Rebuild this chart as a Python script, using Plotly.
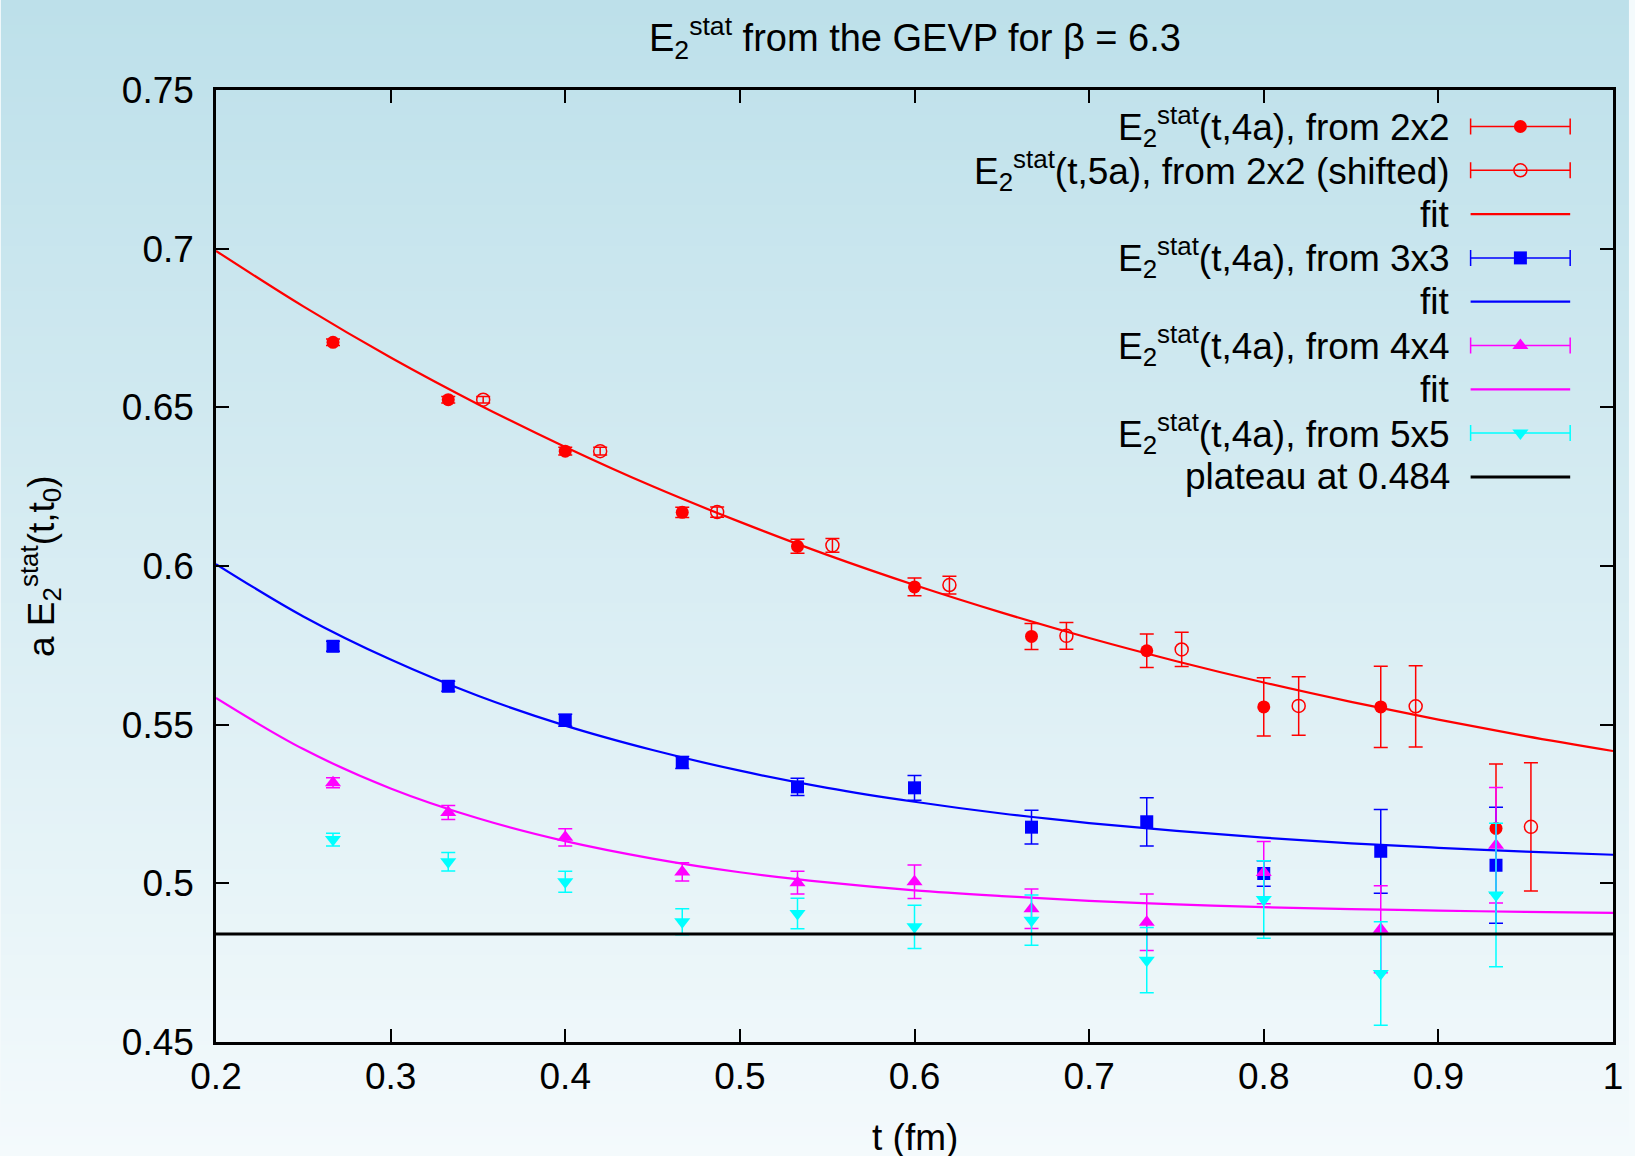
import base64
import struct
import zlib

import plotly.graph_objects as go

# ---------------- data ----------------
t_4a = [0.267, 0.333, 0.400, 0.467, 0.533, 0.600, 0.667, 0.733, 0.800, 0.867, 0.933]

red_4a = [0.6705, 0.6524, 0.6362, 0.6169, 0.6062, 0.5934, 0.5778, 0.5733, 0.5556, 0.5556, 0.5173]
red_4a_err = [0.0010, 0.0010, 0.0012, 0.0016, 0.0022, 0.0028, 0.0041, 0.0053, 0.0092, 0.0128, 0.0203]

t_5a_shifted = [0.353, 0.420, 0.487, 0.553, 0.620, 0.687, 0.753, 0.820, 0.887, 0.953]
red_5a = [0.6524, 0.6362, 0.6170, 0.6065, 0.5940, 0.5780, 0.5737, 0.5559, 0.5558, 0.5178]
red_5a_err = [0.0010, 0.0012, 0.0016, 0.0022, 0.0028, 0.0042, 0.0054, 0.0092, 0.0128, 0.0202]

blue_3x3 = [0.5747, 0.5621, 0.5514, 0.5381, 0.5304, 0.5301, 0.5177, 0.5194, 0.5031, 0.5101, 0.5057]
blue_3x3_err = [0.0016, 0.0016, 0.0019, 0.0019, 0.0027, 0.0039, 0.0053, 0.0076, 0.0040, 0.0132, 0.0183]

mag_4x4 = [0.5317, 0.5223, 0.5145, 0.5036, 0.5002, 0.5005, 0.4920, 0.4877, 0.5034, 0.4855, 0.5120]
mag_4x4_err = [0.0016, 0.0022, 0.0027, 0.0029, 0.0036, 0.0053, 0.0062, 0.0089, 0.0098, 0.0137, 0.0182]

cyan_5x5 = [0.5138, 0.5068, 0.5005, 0.4879, 0.4905, 0.4863, 0.4884, 0.4758, 0.4949, 0.4716, 0.4963]
cyan_5x5_err = [0.0020, 0.0029, 0.0033, 0.0041, 0.0048, 0.0068, 0.0079, 0.0103, 0.0122, 0.0163, 0.0226]

# fit curves, values
fit_t = [0.20, 0.25, 0.30, 0.35, 0.40, 0.45, 0.50, 0.55, 0.60, 0.65, 0.70, 0.75, 0.80, 0.85, 0.90, 0.95, 1.00]
fit_red = [0.6993, 0.6818, 0.6657, 0.6510, 0.6375, 0.6251, 0.6139, 0.6035, 0.5940, 0.5853, 0.5773,
           0.5700, 0.5633, 0.5572, 0.5516, 0.5464, 0.5417]
fit_blue = [0.6006, 0.5841, 0.5705, 0.5591, 0.5497, 0.5420, 0.5355, 0.5301, 0.5257, 0.5220, 0.5190,
            0.5165, 0.5144, 0.5126, 0.5112, 0.5100, 0.5090]
fit_mag = [0.5584, 0.5423, 0.5299, 0.5205, 0.5133, 0.5078, 0.5035, 0.5003, 0.4978, 0.4960, 0.4945,
           0.4934, 0.4925, 0.4919, 0.4914, 0.4910, 0.4907]

plateau = 0.484

x_range = [0.2, 1.0]
y_range = [0.45, 0.75]

legend_labels = [
    "E<sub>2</sub><sup>stat</sup>(t,4a), from 2x2",
    "E<sub>2</sub><sup>stat</sup>(t,5a), from 2x2 (shifted)",
    "fit",
    "E<sub>2</sub><sup>stat</sup>(t,4a), from 3x3",
    "fit",
    "E<sub>2</sub><sup>stat</sup>(t,4a), from 4x4",
    "fit",
    "E<sub>2</sub><sup>stat</sup>(t,4a), from 5x5",
    "plateau at 0.484",
]

# ---------------- style ----------------
W_FIG, H_FIG = 1635, 1156
ML, MR, MT, MB = 216, 16, 90, 114
PW = W_FIG - ML - MR
PH = H_FIG - MT - MB
FONT = "Liberation Sans, Arial, sans-serif"
FS = 37

RED, BLUE, MAG, CYAN = "#ff0000", "#0000ff", "#ff00ff", "#00ffff"


def gradient_png(top, bottom, n=256):
    raw = b"".join(
        b"\x00" + bytes(round(top[c] + (bottom[c] - top[c]) * i / (n - 1)) for c in range(3))
        for i in range(n)
    )

    def chunk(tag, data):
        return (struct.pack(">I", len(data)) + tag + data
                + struct.pack(">I", zlib.crc32(tag + data) & 0xFFFFFFFF))

    png = (b"\x89PNG\r\n\x1a\n"
           + chunk(b"IHDR", struct.pack(">IIBBBBB", 1, n, 8, 2, 0, 0, 0))
           + chunk(b"IDAT", zlib.compress(raw))
           + chunk(b"IEND", b""))
    return "data:image/png;base64," + base64.b64encode(png).decode()


def errbar(color):
    return dict(color=color, thickness=1.5, width=7)


M_CIRCLE = dict(symbol="circle", size=13, color=RED)
M_OPEN = dict(symbol="circle-open", size=13, color=RED, line=dict(width=1.5, color=RED))
M_SQUARE = dict(symbol="square", size=13, color=BLUE)
M_UP = dict(symbol="triangle-up", size=14, color=MAG)
M_DOWN = dict(symbol="triangle-down", size=14, color=CYAN)

fig = go.Figure()

# red 2x2 t0=4a
fig.add_trace(go.Scatter(
    x=t_4a, y=red_4a, mode="markers", marker=M_CIRCLE,
    error_y=dict(type="data", array=red_4a_err, **errbar(RED))))
# red 2x2 t0=5a shifted
fig.add_trace(go.Scatter(
    x=t_5a_shifted, y=red_5a, mode="markers", marker=M_OPEN,
    error_y=dict(type="data", array=red_5a_err, **errbar(RED))))
fig.add_trace(go.Scatter(x=fit_t, y=fit_red, mode="lines",
                         line=dict(color=RED, width=2.2, shape="spline")))
# blue 3x3
fig.add_trace(go.Scatter(
    x=t_4a, y=blue_3x3, mode="markers", marker=M_SQUARE,
    error_y=dict(type="data", array=blue_3x3_err, **errbar(BLUE))))
fig.add_trace(go.Scatter(x=fit_t, y=fit_blue, mode="lines",
                         line=dict(color=BLUE, width=2.2, shape="spline")))
# magenta 4x4
fig.add_trace(go.Scatter(
    x=t_4a, y=mag_4x4, mode="markers", marker=M_UP,
    error_y=dict(type="data", array=mag_4x4_err, **errbar(MAG))))
fig.add_trace(go.Scatter(x=fit_t, y=fit_mag, mode="lines",
                         line=dict(color=MAG, width=2.2, shape="spline")))
# cyan 5x5
fig.add_trace(go.Scatter(
    x=t_4a, y=cyan_5x5, mode="markers", marker=M_DOWN,
    error_y=dict(type="data", array=cyan_5x5_err, **errbar(CYAN))))
# plateau
fig.add_trace(go.Scatter(x=x_range, y=[plateau, plateau], mode="lines",
                         line=dict(color="black", width=3)))

# ---------------- gnuplot-style key (text left, sample right) ----------------
# auxiliary axes measured in figure pixels
ROW0, ROW_DY = 126.5, 43.8
S_X0, S_X1, TXT_R = 1476, 1576, 1457
S_XC = (S_X0 + S_X1) / 2
S_HALF = (S_X1 - S_X0) / 2

key_styles = [
    ("err", M_CIRCLE, RED, 0),
    ("err", M_OPEN, RED, 0),
    ("line", None, RED, 2.2),
    ("err", M_SQUARE, BLUE, 0),
    ("line", None, BLUE, 2.2),
    ("err", M_UP, MAG, 0),
    ("line", None, MAG, 2.2),
    ("err", M_DOWN, CYAN, 0),
    ("line", None, "black", 3),
]

annotations = []
for i, (label, (kind, mk, col, lw)) in enumerate(zip(legend_labels, key_styles)):
    yy = ROW0 + i * ROW_DY
    if kind == "err":
        fig.add_trace(go.Scatter(
            x=[S_XC], y=[yy], mode="markers", marker=mk,
            error_x=dict(type="constant", value=S_HALF, color=col, thickness=1.5, width=8),
            xaxis="x2", yaxis="y2", cliponaxis=False))
    else:
        fig.add_trace(go.Scatter(
            x=[S_X0, S_X1], y=[yy, yy], mode="lines", line=dict(color=col, width=lw),
            xaxis="x2", yaxis="y2", cliponaxis=False))
    annotations.append(dict(
        x=TXT_R, y=yy, xref="x2", yref="y2", text=label, showarrow=False,
        xanchor="right", yanchor="middle", font=dict(family=FONT, size=FS, color="black")))

# title and axis titles
annotations.append(dict(
    x=0.5, y=1, xref="paper", yref="paper", yanchor="middle", yshift=MT - 38,
    text="E<sub>2</sub><sup>stat</sup> from the GEVP for β = 6.3", showarrow=False,
    font=dict(family=FONT, size=38, color="black")))
annotations.append(dict(
    x=0.5, y=0, xref="paper", yref="paper", yanchor="middle", yshift=-(1137 - (H_FIG - MB)),
    text="t (fm)", showarrow=False, font=dict(family=FONT, size=FS, color="black")))
annotations.append(dict(
    x=0, y=0.5, xref="paper", yref="paper", xanchor="center", yanchor="middle",
    xshift=40 - ML, textangle=-90,
    text="a E<sub>2</sub><sup>stat</sup>(t,t<sub>0</sub>)", showarrow=False,
    font=dict(family=FONT, size=FS, color="black")))

axis_common = dict(
    showgrid=False, zeroline=False, ticks="inside", ticklen=13, tickwidth=2,
    tickcolor="black", showline=True, linecolor="black", linewidth=2.5, mirror="ticks",
    tickfont=dict(family=FONT, size=FS, color="black"))

fig.update_layout(
    width=W_FIG, height=H_FIG,
    margin=dict(l=ML, r=MR, t=MT, b=MB, pad=0),
    paper_bgcolor="#f4fafc",
    plot_bgcolor="rgba(0,0,0,0)",
    showlegend=False,
    font=dict(family=FONT, size=FS, color="black"),
    xaxis=dict(range=x_range, tick0=0.2, dtick=0.1, ticklabelstandoff=0, **axis_common),
    yaxis=dict(range=y_range, tick0=0.45, dtick=0.05, ticklabelstandoff=12, **axis_common),
    xaxis2=dict(overlaying="x", range=[ML, ML + PW], visible=False, side="top"),
    yaxis2=dict(overlaying="y", range=[MT + PH, MT], visible=False, side="right"),
    annotations=annotations,
    images=[dict(
        source=gradient_png((189, 224, 234), (244, 250, 252)),
        xref="paper", yref="paper", x=-ML / PW, y=1 + MT / PH,
        sizex=W_FIG / PW, sizey=H_FIG / PH, xanchor="left", yanchor="top",
        sizing="stretch", layer="below")],
)

fig.write_html(
    "out.html",
    config={"displayModeBar": False},
    post_script="document.body.style.margin='0';document.body.style.overflow='hidden';",
)
